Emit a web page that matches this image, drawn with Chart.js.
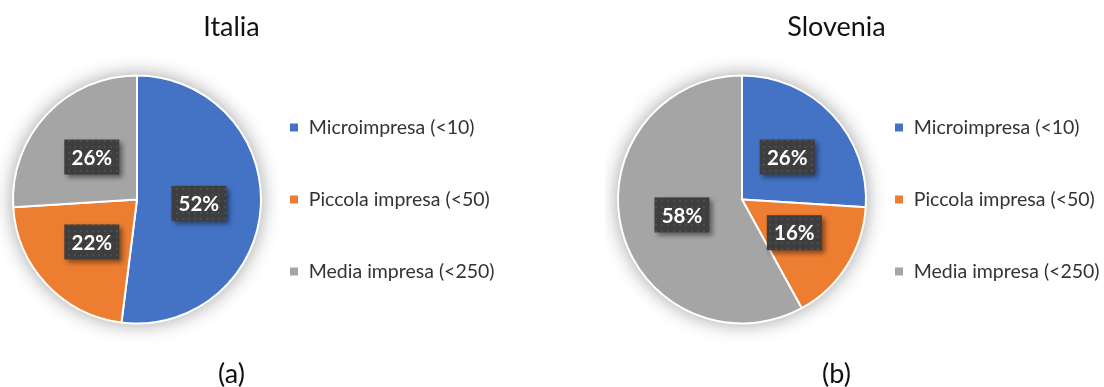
<!DOCTYPE html>
<html>
<head>
<meta charset="utf-8">
<script src="https://cdn.jsdelivr.net/npm/chart.js@4.4.1/dist/chart.umd.min.js"></script>
<style>
  html, body { margin: 0; padding: 0; background: #fff; }
  body { width: 1104px; height: 387px; overflow: hidden; position: relative; font-family: Lato, sans-serif; }
  .panel { position: absolute; top: 0; width: 560px; height: 387px; }
  .panel canvas { position: absolute; left: 0; top: 0; }
  .title, .caption { position: absolute; left: 131.5px; width: 200px; text-align: center; font-size: 27px; line-height: 1.2; color: #111; }
  .title { top: 10px; }
  .caption { top: 357px; }
</style>
</head>
<body>
<div class="panel" style="left:0px">
  <canvas id="chartItalia" width="560" height="387"></canvas>
  <div class="title">Italia</div>
  <div class="caption">(a)</div>
</div>
<div class="panel" style="left:605px">
  <canvas id="chartSlovenia" width="560" height="387"></canvas>
  <div class="title">Slovenia</div>
  <div class="caption">(b)</div>
</div>
<script>
// company size classes and their share (%) per country
var categories = ['Microimpresa (<10)', 'Piccola impresa (<50)', 'Media impresa (<250)'];
var italiaShares = [52, 22, 26];
var sloveniaShares = [26, 16, 58];
var sliceColors = ['#4472C4', '#ED7D31', '#A5A5A5'];

var legendFont = { family: 'Lato', size: 19.5 };

// width of the longest legend entry, so the legend column lands next to the pie
function legendTextWidth() {
  var m = document.createElement('canvas').getContext('2d');
  m.font = legendFont.size + 'px ' + legendFont.family;
  return Math.max.apply(null, categories.map(function(c) { return m.measureText(c).width; }));
}
var rightPad = 560 - (318.75 + legendTextWidth());

// soft halo behind the pie
var pieShadow = {
  id: 'pieShadow',
  beforeDatasetsDraw: function(chart) {
    var arc = chart.getDatasetMeta(0).data[0];
    if (!arc) return;
    var ctx = chart.ctx;
    ctx.save();
    ctx.shadowColor = 'rgba(0,0,0,0.4)';
    ctx.shadowBlur = 20;
    ctx.fillStyle = '#fff';
    ctx.beginPath();
    ctx.arc(arc.x, arc.y, arc.outerRadius, 0, Math.PI * 2);
    ctx.fill();
    ctx.restore();
  }
};

// dark boxed percentage labels
var boxPattern = null;
function getBoxPattern(ctx) {
  if (boxPattern) return boxPattern;
  var c = document.createElement('canvas');
  c.width = 6; c.height = 6;
  var g = c.getContext('2d');
  g.fillStyle = '#3e3e3e';
  g.fillRect(0, 0, 6, 6);
  g.fillStyle = '#4c4c4c';
  g.fillRect(2, 2, 2, 2);
  boxPattern = ctx.createPattern(c, 'repeat');
  return boxPattern;
}

var boxedLabels = {
  id: 'boxedLabels',
  afterDatasetsDraw: function(chart) {
    var ctx = chart.ctx;
    var values = chart.data.datasets[0].data;
    chart.getDatasetMeta(0).data.forEach(function(arc, i) {
      var p = arc.tooltipPosition();
      var w = 55, h = 35;
      ctx.save();
      ctx.shadowColor = 'rgba(0,0,0,0.45)';
      ctx.shadowBlur = 5;
      ctx.shadowOffsetX = 3;
      ctx.shadowOffsetY = 3;
      ctx.fillStyle = getBoxPattern(ctx);
      ctx.fillRect(p.x - w / 2, p.y - h / 2, w, h);
      ctx.restore();
      ctx.save();
      ctx.fillStyle = '#ffffff';
      ctx.font = 'bold 20.5px Lato';
      ctx.textAlign = 'center';
      ctx.textBaseline = 'middle';
      ctx.fillText(values[i] + '%', p.x, p.y + 1);
      ctx.restore();
    });
  }
};

function makePie(id, values) {
  var el = document.getElementById(id);
  return new Chart(el, {
    type: 'pie',
    data: {
      labels: categories,
      datasets: [{ data: values, backgroundColor: sliceColors, borderColor: '#ffffff', borderWidth: 2, clip: false }]
    },
    options: {
      responsive: false,
      animation: false,
      events: [],
      radius: 124,
      layout: { padding: { left: 37.5, right: rightPad, top: 60, bottom: 48 } },
      plugins: {
        legend: {
          position: 'right',
          maxWidth: 400,
          labels: { boxWidth: 10, boxHeight: 10, padding: 52.5, color: '#333333', font: legendFont }
        },
        tooltip: { enabled: false }
      }
    },
    plugins: [pieShadow, boxedLabels]
  });
}

makePie('chartItalia', italiaShares);
makePie('chartSlovenia', sloveniaShares);
</script>
</body>
</html>
